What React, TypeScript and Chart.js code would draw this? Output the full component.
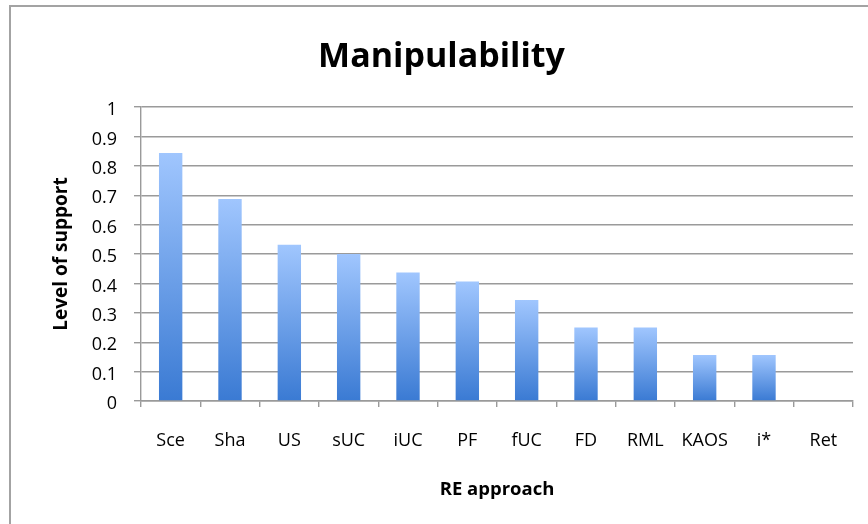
import React, { useEffect, useRef } from "react";
import { Chart, registerables } from "chart.js";

Chart.register(...registerables);

const categories = ["Sce", "Sha", "US", "sUC", "iUC", "PF", "fUC", "FD", "RML", "KAOS", "i*", "Ret"];
const supportValues = [0.84375, 0.6875, 0.53125, 0.5, 0.4375, 0.40625, 0.34375, 0.25, 0.25, 0.15625, 0.15625, 0];
const yTickLabels = ["0", "0.1", "0.2", "0.3", "0.4", "0.5", "0.6", "0.7", "0.8", "0.9", "1"];

const FONT = "'Open Sans', sans-serif";
const GRID = "#9a9a9a";

const framePlugin = {
  id: "frame",
  beforeDraw(chart: any) {
    const c = chart.ctx;
    c.save();
    c.fillStyle = "#ffffff";
    c.fillRect(0, 0, chart.width, chart.height);
    c.strokeStyle = "#a3a3a3";
    c.lineWidth = 2;
    c.strokeRect(10, 6, chart.width + 20, chart.height + 20);
    c.restore();
  },
};

export default function App() {
  const ref = useRef<HTMLCanvasElement | null>(null);

  useEffect(() => {
    document.body.style.margin = "0";
    const canvas = ref.current;
    if (!canvas) return;
    const chart = new Chart(canvas, {
      type: "bar",
      data: {
        labels: categories,
        datasets: [
          {
            label: "Manipulability",
            data: supportValues,
            barPercentage: 0.394,
            categoryPercentage: 1,
            borderWidth: 0,
            backgroundColor: (ctx: any) => {
              const ch = ctx.chart;
              if (!ch.chartArea || ctx.type !== "data" || !ch.scales.y) return "#6a9fe8";
              const y = ch.scales.y;
              const top = y.getPixelForValue(ctx.parsed ? ctx.parsed.y : 0);
              const base = y.getPixelForValue(0);
              if (!isFinite(top) || base - top < 1) return "#3b7bd4";
              const g = ch.ctx.createLinearGradient(0, top, 0, base);
              g.addColorStop(0, "#a0c6fe");
              g.addColorStop(1, "#3a7ad3");
              return g;
            },
          },
        ],
      },
      options: {
        responsive: false,
        animation: false,
        layout: { padding: { left: 30, right: 15, top: 10, bottom: 20 } },
        plugins: {
          legend: { display: false },
          tooltip: { enabled: false },
          title: {
            display: true,
            text: "Manipulability",
            color: "#000000",
            font: { family: FONT, size: 34, weight: "bold", lineHeight: 1.2 },
            padding: { top: 26.6, bottom: 29.6 },
          },
        },
        scales: {
          x: {
            grid: {
              display: true,
              offset: true,
              drawOnChartArea: false,
              drawTicks: true,
              tickLength: 6,
              color: GRID,
              lineWidth: 1.4,
            },
            border: { display: true, color: GRID, width: 1.4 },
            ticks: {
              color: "#000000",
              font: { family: FONT, size: 18 },
              padding: 23,
              maxRotation: 0,
              autoSkip: false,
            },
            title: {
              display: true,
              text: "RE approach",
              color: "#000000",
              font: { family: FONT, size: 18.5, weight: "bold", lineHeight: 1.2 },
              padding: { top: 0, bottom: 3.5 },
            },
            afterFit: (scale: any) => {
              scale.height = 103;
            },
          },
          y: {
            min: 0,
            max: 1,
            ticks: {
              stepSize: 0.1,
              color: "#000000",
              font: { family: FONT, size: 18 },
              padding: 17,
              labelOffset: 3,
              callback: (_v: any, i: number) => yTickLabels[i],
            },
            grid: {
              color: GRID,
              lineWidth: 1.4,
              drawTicks: true,
              tickLength: 7,
            },
            border: { display: true, color: GRID, width: 1.4 },
            title: {
              display: true,
              text: "Level of support",
              color: "#000000",
              font: { family: FONT, size: 19, weight: "bold", lineHeight: 1.2 },
              padding: { top: 20, bottom: 0 },
            },
            afterFit: (scale: any) => {
              scale.width = 111;
            },
          },
        },
      },
      plugins: [framePlugin],
    } as any);
    return () => chart.destroy();
  }, []);

  return (
    <div style={{ position: "absolute", left: 0, top: 0, width: 868, height: 524 }}>
      <canvas ref={ref} width={868} height={524} style={{ display: "block" }} />
    </div>
  );
}
